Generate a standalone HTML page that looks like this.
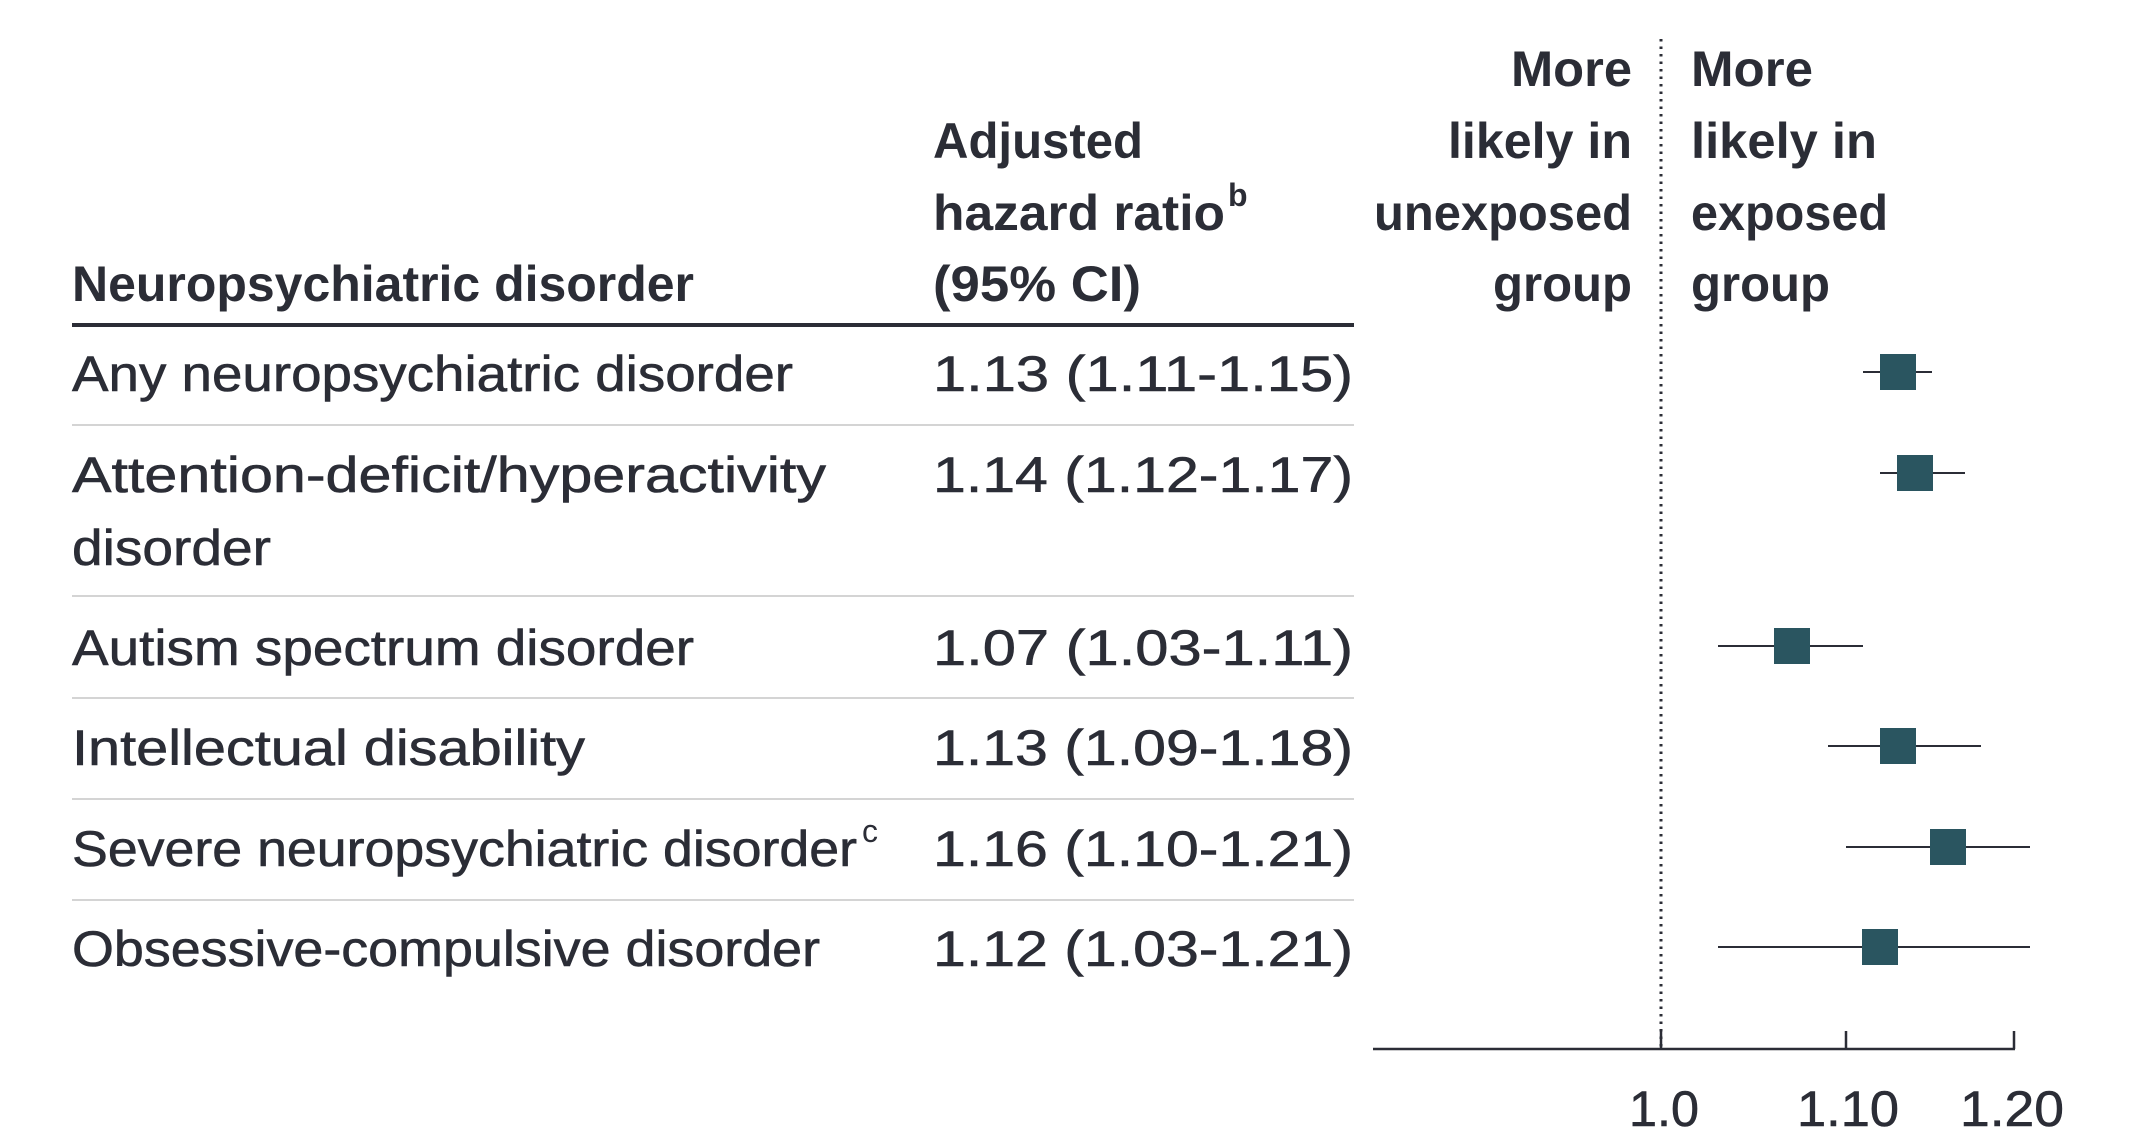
<!DOCTYPE html>
<html><head><meta charset="utf-8"><style>
html,body{margin:0;padding:0;background:#fff;}
svg{display:block;}
text{font-family:"Liberation Sans",sans-serif;fill:#2b2d36;}
.h{font-size:50px;font-weight:bold;}
.r{font-size:50px;stroke:#2b2d36;stroke-width:0.6px;}
</style></head><body>
<svg width="2135" height="1141" viewBox="0 0 2135 1141" xmlns="http://www.w3.org/2000/svg">
<g transform="translate(0,-3)">
<!-- left headers -->
<text class="h" x="72" y="304" textLength="622" lengthAdjust="spacingAndGlyphs">Neuropsychiatric disorder</text>
<text class="h" x="933" y="161" textLength="210" lengthAdjust="spacingAndGlyphs">Adjusted</text>
<text class="h" x="933" y="233" textLength="292" lengthAdjust="spacingAndGlyphs">hazard ratio</text>
<text x="1228" y="209" style="font-size:32px;font-weight:bold">b</text>
<text class="h" x="933" y="304" textLength="208" lengthAdjust="spacingAndGlyphs">(95% CI)</text>
<!-- right headers -->
<text class="h" x="1511" y="89" textLength="121" lengthAdjust="spacingAndGlyphs">More</text>
<text class="h" x="1448" y="161" textLength="184" lengthAdjust="spacingAndGlyphs">likely in</text>
<text class="h" x="1374" y="233" textLength="258" lengthAdjust="spacingAndGlyphs">unexposed</text>
<text class="h" x="1493" y="304" textLength="139" lengthAdjust="spacingAndGlyphs">group</text>
<text class="h" x="1691" y="89" textLength="122" lengthAdjust="spacingAndGlyphs">More</text>
<text class="h" x="1691" y="161" textLength="186" lengthAdjust="spacingAndGlyphs">likely in</text>
<text class="h" x="1691" y="233" textLength="197" lengthAdjust="spacingAndGlyphs">exposed</text>
<text class="h" x="1691" y="304" textLength="139" lengthAdjust="spacingAndGlyphs">group</text>
<!-- rules -->
<rect x="72" y="326" width="1282" height="4" fill="#2b2d36"/>
<g fill="#d4d4d4">
<rect x="72" y="427" width="1282" height="2"/>
<rect x="72" y="598" width="1282" height="2"/>
<rect x="72" y="700" width="1282" height="2"/>
<rect x="72" y="801" width="1282" height="2"/>
<rect x="72" y="902" width="1282" height="2"/>
</g>
<!-- rows -->
<text class="r" x="72" y="394" textLength="721" lengthAdjust="spacingAndGlyphs">Any neuropsychiatric disorder</text>
<text class="r" x="933" y="394" textLength="420" lengthAdjust="spacingAndGlyphs">1.13 (1.11-1.15)</text>
<text class="r" x="72" y="495" textLength="754" lengthAdjust="spacingAndGlyphs">Attention-deficit/hyperactivity</text>
<text class="r" x="72" y="568" textLength="199" lengthAdjust="spacingAndGlyphs">disorder</text>
<text class="r" x="933" y="495" textLength="420" lengthAdjust="spacingAndGlyphs">1.14 (1.12-1.17)</text>
<text class="r" x="72" y="668" textLength="622" lengthAdjust="spacingAndGlyphs">Autism spectrum disorder</text>
<text class="r" x="933" y="668" textLength="420" lengthAdjust="spacingAndGlyphs">1.07 (1.03-1.11)</text>
<text class="r" x="72" y="768" textLength="513" lengthAdjust="spacingAndGlyphs">Intellectual disability</text>
<text class="r" x="933" y="768" textLength="420" lengthAdjust="spacingAndGlyphs">1.13 (1.09-1.18)</text>
<text class="r" x="72" y="869" textLength="785" lengthAdjust="spacingAndGlyphs">Severe neuropsychiatric disorder</text>
<text x="862" y="845" style="font-size:32px">c</text>
<text class="r" x="933" y="869" textLength="420" lengthAdjust="spacingAndGlyphs">1.16 (1.10-1.21)</text>
<text class="r" x="72" y="969" textLength="748" lengthAdjust="spacingAndGlyphs">Obsessive-compulsive disorder</text>
<text class="r" x="933" y="969" textLength="420" lengthAdjust="spacingAndGlyphs">1.12 (1.03-1.21)</text>
<!-- dotted reference -->
<line x1="1661" y1="42" x2="1661" y2="1052" stroke="#2b2d36" stroke-width="3" stroke-dasharray="2.5,5"/>
<!-- axis -->
<line x1="1373" y1="1052" x2="2015" y2="1052" stroke="#2b2d36" stroke-width="2.5"/>
<g stroke="#2b2d36" stroke-width="2.5">
<line x1="1661" y1="1034" x2="1661" y2="1052"/>
<line x1="1846" y1="1034" x2="1846" y2="1052"/>
<line x1="2014" y1="1034" x2="2014" y2="1052"/>
</g>
<text class="r" x="1629" y="1129" textLength="70" lengthAdjust="spacingAndGlyphs">1.0</text>
<text class="r" x="1797" y="1129" textLength="102" lengthAdjust="spacingAndGlyphs">1.10</text>
<text class="r" x="1960" y="1129" textLength="104" lengthAdjust="spacingAndGlyphs">1.20</text>
<!-- CI lines -->
<g stroke="#2b2d36" stroke-width="2">
<line x1="1863" y1="375" x2="1932" y2="375"/>
<line x1="1880" y1="476" x2="1965" y2="476"/>
<line x1="1718" y1="649" x2="1863" y2="649"/>
<line x1="1828" y1="749" x2="1981" y2="749"/>
<line x1="1846" y1="850" x2="2030" y2="850"/>
<line x1="1718" y1="950" x2="2030" y2="950"/>
</g>
<g fill="#2a5560">
<rect x="1880" y="357" width="36" height="36"/>
<rect x="1897" y="458" width="36" height="36"/>
<rect x="1774" y="631" width="36" height="36"/>
<rect x="1880" y="731" width="36" height="36"/>
<rect x="1930" y="832" width="36" height="36"/>
<rect x="1862" y="932" width="36" height="36"/>
</g>
</g>
</svg>
</body></html>
